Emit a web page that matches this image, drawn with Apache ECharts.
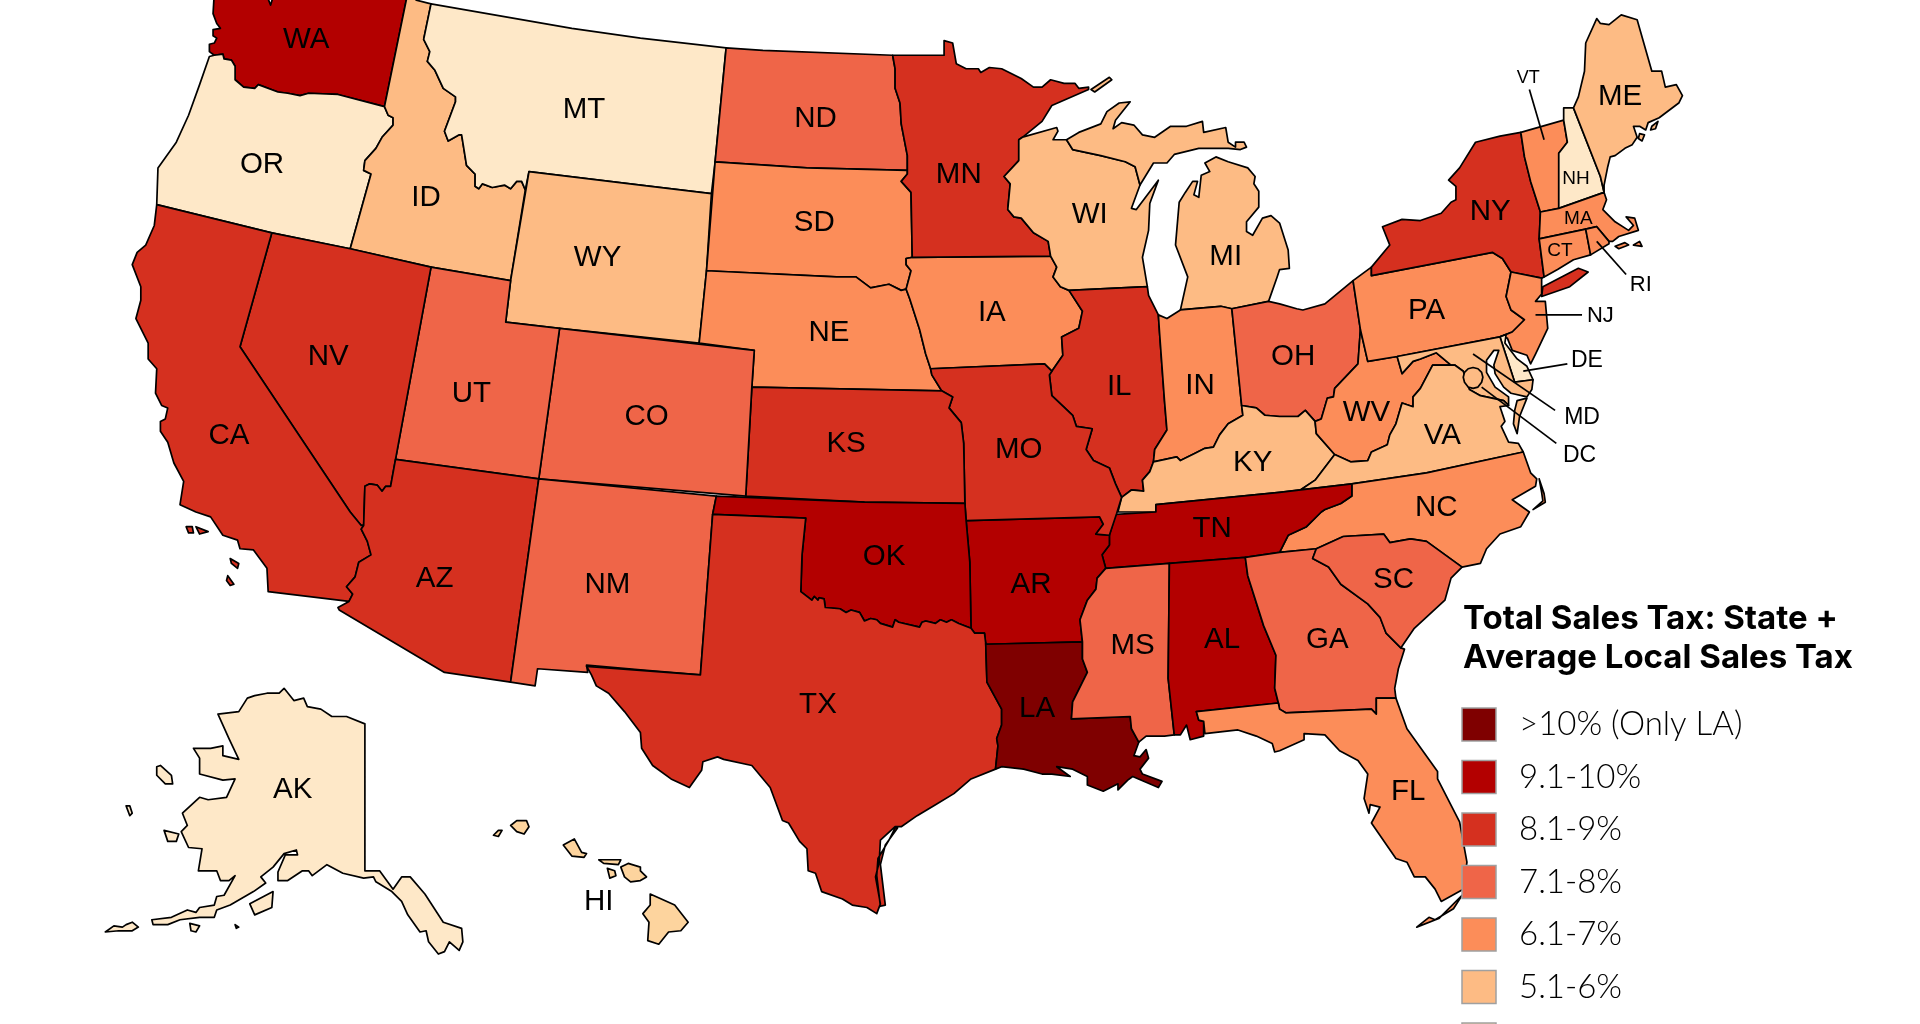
<!DOCTYPE html>
<html>
<head>
<meta charset="utf-8">
<style>html,body{margin:0;height:100%;overflow:hidden;background:#fff}#chart{width:1920px;height:1024px}</style>
<script src="https://cdn.jsdelivr.net/npm/echarts@6/dist/echarts.min.js"></script>
</head>
<body>
<div id="chart"></div>
<script>
// bins of the legend, top to bottom
var binLabels = ['>10% (Only LA)', '9.1-10%', '8.1-9%', '7.1-8%', '6.1-7%', '5.1-6%', '4.1-5%', '0-4%'];
var binColors = ['#7f0000', '#b30000', '#d5301f', '#ef6548', '#fc8d59', '#fdbb84', '#fdd49e', '#fee8c8'];

// states of each bin, same order as the legend
var statesOver10 = ['LA'];
var states9to10 = ['WA', 'OK', 'AR', 'AL', 'TN'];
var states8to9 = ['CA', 'NV', 'AZ', 'TX', 'KS', 'MO', 'IL', 'MN', 'NY'];
var states7to8 = ['UT', 'CO', 'NM', 'ND', 'OH', 'GA', 'SC', 'MS'];
var states6to7 = ['SD', 'NE', 'IA', 'IN', 'WV', 'PA', 'NJ', 'NC', 'FL', 'VT', 'MA', 'CT', 'RI'];
var states5to6 = ['ID', 'WY', 'WI', 'MI', 'KY', 'VA', 'MD', 'DC', 'ME'];
var states4to5 = ['HI'];
var statesUnder4 = ['OR', 'MT', 'NH', 'DE', 'AK'];
var binStates = [statesOver10, states9to10, states8to9, states7to8, states6to7, states5to6, states4to5, statesUnder4];

var smallLabels = {VT: 18, NH: 19, MA: 19, CT: 19, RI: 22, NJ: 22, DE: 23, MD: 23, DC: 23};

// outline of the map, traced in a 1568x836 sketch. shared borders live here so both states use the same points
var WA_OR = '175,45 182,44 183,48 189,49 192,54 192,65 199,71 208,72 211,69 227,75 235,76 245,78 252,76 276,77 314,87';
var WA_ID = '314,87 333,-6';
var OR_ID = '314,87 317,94 321,96 321,102 312,112 307,121 298,131 297,139 303,142 286,203';
var ID_MT = '352,3 346,32 351,42 349,50 355,57 362,72 372,79 372,83 363,107 366,115 375,110 377,110 381,135 388,142 388,152 391,154 394,150 402,153 412,151 417,154 422,148 426,148 429,155';
var ND_MN = '729,45 731,56 731,72 735,84 736,101 741,127 741,139';
var SD_MN = '741,139 741,142 736,148 744,157 745,210';
var SD_IA = '745,210 740,211 740,216 744,221 740,236';
var SD_NE = '740,236 736,237 726,232 711,235 699,226 683,226 577,221';
var NE_IA = '740,236 743,244 751,269 756,289 760,301';
var NE_MO = '760,301 761,306 769,319';
var IA_WI = '858,209 863,218 860,226 866,234 873,237';
var IA_IL = '873,237 884,254 881,268 867,275 868,290 859,303';
var IA_MO = '859,303 853,297 760,301';
var MN_WI = '835,112 832,114 832,131 820,144 825,150 823,171 828,177 834,178 844,190 856,197 858,209';
var WI_MI = '876,122 899,127 919,132 927,136 931,151';
var IL_IN = '946,257 947,272 951,327 953,351 943,367 942,377';
var IL_KY = '942,377 939,385 933,392 934,401 924,400 916,406';
var IL_MO = '859,303 857,306 859,323 876,339 879,348 892,350 887,367 893,376 906,382 911,395 916,406';
var IN_KY = '1014,331 1015,339 1003,346 996,355 991,365 984,366 976,370 964,376 961,373 942,377';
var KY_OH = '1014,331 1026,333 1033,339 1045,340 1060,340 1066,335 1074,344';
var KY_WV = '1074,344 1075,354 1090,371';
var KY_VA = '1090,371 1074,392 1062,400';
var OH_WV = '1111,269 1109,297 1090,317 1089,324 1084,325 1079,342 1074,344';
var WV_MD = '1141,291 1145,305 1154,295 1160,293 1173,288 1185,298';
var WV_VA = '1185,298 1170,298 1160,317 1154,324 1154,332 1145,329 1140,346 1135,355 1133,363 1120,369 1117,376 1103,377 1090,371';
var PA_NY = '1120,225 1219,206 1227,211 1234,222';
var PA_NJ = '1234,222 1230,242 1234,253 1245,261 1235,271 1225,275';
var NY_VT = '1242,108 1245,128 1250,148 1258,173';
var VT_NH = '1273,170 1273,125 1280,116 1277,98';
var NH_ME = '1285,88 1307,144 1310,157';
var VA_NC = '1244,369 1165,386 1104,395';
var TN_NC = '1104,395 1104,405 1095,411 1082,416 1079,418 1067,430 1052,437 1045,451';
var TN_AR = '903,464 900,453 906,445 906,437';
var AR_MS = '903,464 896,472 895,481 888,490 882,506 884,524';
var NC_SC = '1194,463 1165,442 1152,440 1135,443 1130,436 1097,438 1075,448';
var SC_GA = '1075,448 1072,456 1085,463 1095,477 1117,493 1127,504 1132,517 1144,529';
var MO_KS = '769,319 778,324 775,333 785,345 787,362 788,411';
var OK_TX = '793,513 783,509 777,506 773,508 768,506 764,509 756,507 753,508 751,512 734,508 731,506 729,512 719,509 716,506 711,505 706,507 702,500 695,498 691,500 686,497 674,496 673,489 669,488 668,490 665,487 663,490 654,483';
var TX_LA = '805,525 806,557 818,579 818,592 814,603 815,609 813,628';
var LA_MS = '884,524 884,538 888,549 876,573 875,587 923,585 924,595 930,606';
var AL_GA = '1017,455 1019,470 1032,511 1042,535 1041,562 1044,574';
var GA_FL = '1140,570 1124,570 1124,583 1120,579 1050,582 1045,579 1044,574';
var CA_NV = '222,190 196,283 286,418 295,429 297,429';
var CA_AZ = '297,429 295,432 300,442 303,453 293,459 290,471 283,479 288,485 285,491';

function pts(s) {
	return s.trim().split(/\s+/).map(function(p) {
		return p.split(',').map(Number);
	});
}
// a ring joins strings; rev() walks a shared border the other way
function rev(s) {
	return s.trim().split(/\s+/).reverse().join(' ');
}
function ring() {
	return pts(Array.prototype.join.call(arguments, ' '));
}

var shapes = {
	WA: [ring('175,-6 174,11 177,19 180,23 174,24 174,29 177,31 175,35 171,36 171,42', WA_OR, WA_ID, '224,-6 221,4 217,-6')],
	OR: [ring('171,46 163,69 154,94 144,116 129,137 128,167 222,190 286,203', rev(OR_ID), rev(WA_OR))],
	ID: [ring('333,-6 340,0', ID_MT, '417,229 352,218 286,203', rev(OR_ID), WA_ID)],
	MT: [ring('467,23 523,31 593,39 584,132 581,158 523,151 432,140', rev(ID_MT))],
	WY: [ring('432,140 523,151 581,158 577,221 571,280 523,275 457,268 413,263 417,229')],
	ND: [ring('593,39 623,41', ND_MN, '659,137 584,132')],
	SD: [ring('584,132 659,137', SD_MN, SD_IA, SD_NE)],
	NE: [ring(rev(SD_NE), '743,244 751,269 756,289', NE_MO, '614,316 616,286 571,280')],
	IA: [ring(IA_WI, IA_IL, IA_MO, rev(NE_IA), rev(SD_IA))],
	MN: [ring('729,45 771,45 771,33 778,35 781,52 789,56 799,56 801,59 808,55 818,56 834,64 844,71 851,71 858,65 869,68 878,68 881,72 889,71 889,73 859,86 851,99', MN_WI, rev(SD_MN), rev(ND_MN))],
	WI: [ring('835,112 838,111 863,104 864,107 860,114 871,114', WI_MI, '924,170 928,171 946,147 939,166 938,188 933,210 937,234 873,237', rev(IA_WI), rev(MN_WI))],
	MI: [
		ring('871,114 881,108 899,101 904,91 914,84 923,83 911,98 909,105 916,100 926,102 933,110 943,112 956,103 969,103 982,99 983,108 1001,104 1003,116 1009,120 1009,116 1016,116 1018,120 1013,122 1003,121 979,121 959,126 953,133 942,133', rev(WI_MI)),
		ring('993,128 1003,132 1019,137 1025,144 1024,150 1028,156 1028,169 1018,181 1018,189 1023,192 1031,178 1038,176 1045,182 1052,204 1053,219 1045,220 1043,226 1036,246 1006,252 997,250 964,253 970,226 960,200 963,165 968,157 974,148 978,148 975,159 979,161 981,143 988,140 984,133'),
		ring('891,73 906,63 908,65 894,75')
	],
	IL: [ring('873,237 937,234 938,241', IL_IN, IL_KY, rev(IL_MO), rev(IA_IL))],
	IN: [ring('946,257 953,260 964,253 997,250 1006,252', IN_KY, rev(IL_IN))],
	OH: [ring('1006,252 1036,246 1045,248 1059,252 1064,253 1082,248 1105,229', OH_WV, rev(KY_OH))],
	KY: [ring(KY_OH, KY_WV, KY_VA, '1045,402 944,412 944,418 913,418', rev(IL_KY), rev(IN_KY))],
	WV: [ring('1117,295', WV_MD, WV_VA, rev(KY_WV), rev(OH_WV))],
	PA: [ring('1105,229 1120,218', PA_NY, PA_NJ, '1141,291 1117,295 1111,269')],
	NY: [
		ring('1120,218 1135,200 1129,185 1145,179 1160,180 1177,174 1185,165 1189,163 1189,152 1183,147 1192,137 1205,116 1225,111', NY_VT, '1257,195 1261,226 1259,227', rev(PA_NY)),
		ring('1259,242 1260,234 1289,219 1297,222 1282,234')
	],
	VT: [ring(NY_VT, VT_NH)],
	NH: [ring('1277,88', NH_ME, VT_NH)],
	ME: [
		ring('1289,79 1294,58 1295,35 1304,15 1307,19 1314,20 1324,12 1337,16 1349,58 1357,58 1360,71 1369,69 1374,78 1371,84 1355,96 1346,100 1344,106 1339,103 1334,103 1337,112 1333,118 1327,121 1319,127 1315,128 1313,136 1310,151', rev(NH_ME)),
		ring('1339,109 1343,110 1341,115 1338,113'),
		ring('1349,103 1354,99 1352,105 1348,106')
	],
	MA: [
		ring('1258,173 1273,170 1310,157 1312,163 1309,171 1319,181 1330,188 1334,184 1328,177 1335,178 1338,188 1322,193 1317,197 1314,197 1304,185 1295,187 1257,195'),
		ring('1319,201 1327,198 1330,200 1322,203'),
		ring('1334,200 1339,197 1341,201')
	],
	CT: [ring('1257,195 1295,187 1299,208 1285,212 1272,220 1261,226')],
	RI: [ring('1295,187 1304,185 1314,197 1314,199 1299,208')],
	NJ: [ring('1259,227 1259,240 1254,246 1262,246 1264,268 1254,289 1250,297 1247,290 1235,286 1231,276', rev(PA_NJ))],
	DE: [ring('1225,275 1230,273 1229,280 1239,293 1247,299 1252,310 1237,312')],
	MD: [ring('1225,275 1237,312 1252,310 1251,318 1247,324 1234,321 1228,316 1221,305 1220,298 1224,286 1220,286 1214,294 1214,304 1221,316 1232,324 1232,331 1228,327 1209,323 1200,318 1195,303 1188,298', rev(WV_MD))],
	VA: [
		ring('1188,298 1195,303 1200,318 1209,323 1228,327 1232,331 1225,332 1229,344 1226,348 1232,361 1240,362', VA_NC, rev(KY_VA), rev(WV_VA)),
		ring('1239,327 1247,325 1241,340 1239,354 1236,346 1237,335')
	],
	NC: [
		ring(rev(VA_NC), '1250,386 1255,391 1254,397 1235,408 1249,418 1242,430 1225,436 1214,448 1209,460', NC_SC, rev(TN_NC)),
		ring('1257,391 1261,403 1262,410 1252,416 1260,409 1259,402')
	],
	TN: [ring('911,420 944,418 944,412 1045,402', TN_NC, '1017,455 955,460', TN_AR)],
	AR: [ring('789,425 898,422 901,428 895,436', rev(TN_AR), AR_MS, '805,526 804,517 796,517 793,513 792,459')],
	MO: [ring(rev(IA_MO), IL_MO, '912,419 906,437 895,436 901,428 898,422 789,425', rev(MO_KS), rev(NE_MO))],
	KS: [ring('614,316', MO_KS, '706,410 609,405')],
	CO: [ring('457,268 616,286 614,316 609,405 440,391')],
	UT: [ring('352,218 417,229 413,263 457,268 440,391 323,375')],
	NV: [ring('286,203 352,218 323,375 319,397 315,397 312,401 308,396 302,395 298,397', rev(CA_NV))],
	CA: [
		ring('128,167 126,184 119,200 112,206 108,216 115,234 115,245 111,260 121,280 121,293 128,301 127,321 132,331 137,333 135,342 131,344 131,352 137,361 142,378 150,393 147,412 160,418 172,422 182,437 194,441 196,448 207,449 218,464 219,483', rev(CA_AZ), rev(CA_NV)),
		ring('152,430 157,430 158,435 154,435'),
		ring('160,430 170,434 163,436'),
		ring('188,456 195,460 194,464 189,460'),
		ring('186,470 191,477 188,478 185,474')
	],
	AZ: [ring('323,375 440,391 417,557 363,549 277,498 276,496', rev(CA_AZ), '298,397 302,395 308,396 312,401 315,397 319,397')],
	NM: [ring('440,391 585,405 582,420 572,551 523,547 479,543 480,549 439,546 437,560 417,557')],
	OK: [ring('585,405 706,410 788,411 789,425 792,459', OK_TX, '655,453 658,423 582,420')],
	TX: [
		ring('582,420 658,423 655,453', rev(OK_TX), '796,517 804,517', TX_LA, '793,636 779,648 764,657 749,666 736,675 731,675 719,686 718,704 715,716 719,738 716,746 708,741 696,739 688,734 671,728 666,713 660,711 659,693 653,687 644,672 639,670 629,643 614,625 591,620 586,618 574,622 573,629 563,643 548,636 533,625 524,611 523,598 510,581 497,566 487,560 483,551 479,544 572,551'),
		ring('733,676 723,690 719,706 723,739 719,740 716,715 717,701 726,686 731,676')
	],
	LA: [ring('805,526', LA_MS, '926,617 931,618 936,612 938,619 931,628 933,632 949,638 946,643 925,634 921,637 913,645 913,640 901,646 888,641 888,634 876,628 863,626 874,634 859,632 851,632 836,628 818,626', rev(TX_LA))],
	MS: [ring('903,464 955,460 954,554 959,600 951,601 936,601', rev(LA_MS), rev(AR_MS))],
	AL: [ring('955,460', AL_GA, '977,581 979,588 983,589 983,601 972,604 969,592 964,600 959,600 954,554')],
	GA: [ring('1045,451', SC_GA, '1147,530 1142,546 1139,562', GA_FL, rev(AL_GA))],
	SC: [ring(NC_SC, SC_GA, '1155,513 1180,490 1185,472')],
	FL: [
		ring(rev(GA_FL), '1149,595 1174,630 1174,636 1192,671 1198,704 1195,726 1177,736 1172,726 1164,716 1155,716 1149,704 1140,701 1120,672 1127,659 1119,657 1118,664 1114,652 1117,632 1109,621 1094,613 1082,600 1065,599 1065,604 1045,613 1041,614 1039,607 1026,601 1011,596 984,599 983,589 979,588 977,581'),
		ring('1194,731 1175,750 1157,757 1167,749 1172,751 1187,742')
	],
	AK: [
		ring('178,583 195,581 202,570 208,568 218,566 228,566 232,562 240,572 248,570 251,577 262,579 271,585 283,585 298,591 298,711 310,711 321,726 328,716 335,716 347,730 362,753 377,758 378,769 375,776 367,769 363,777 358,779 350,769 348,760 343,761 333,747 328,736 320,728 307,720 305,716 297,717 280,713 267,706 255,715 252,711 247,711 235,719 227,719 227,712 233,698 243,698 242,694 232,697 223,708 213,716 217,721 207,728 188,739 177,743 175,749 163,749 147,751 137,755 125,755 124,751 140,749 153,743 160,745 163,741 175,739 177,732 183,731 192,715 187,719 180,719 177,711 162,711 165,693 154,692 148,679 153,674 149,664 163,651 170,653 185,651 192,636 182,637 163,632 163,619 158,611 172,611 182,609 182,617 195,620 187,603'),
		ring('128,626 131,625 140,633 141,640 135,640 128,633'),
		ring('103,658 106,658 108,664 106,666'),
		ring('134,678 146,681 144,687 137,687'),
		ring('204,738 223,728 222,741 208,747'),
		ring('86,761 93,756 100,757 103,755 108,753 113,757 108,760 97,760'),
		ring('192,755 195,757 193,758'),
		ring('155,754 163,756 160,761 156,760')
	],
	HI: [
		ring('417,674 422,670 430,670 432,675 428,681 422,679'),
		ring('403,682 407,678 410,678 407,683'),
		ring('460,690 469,685 475,696 479,697 477,700 467,699'),
		ring('489,702 507,702 505,706 493,705'),
		ring('496,709 502,711 503,715 498,717'),
		ring('507,708 513,705 523,708 523,711 528,716 523,719 515,720 510,716'),
		ring('531,730 551,739 562,753 556,760 546,761 538,771 529,768 530,753 525,746 531,739')
	],
	DC: [ring('1211,308 1210,312 1207,316 1203,317 1199,316 1196,312 1195,308 1196,304 1199,301 1203,300 1207,301 1210,304')]
};

// where each code is written, in the same sketch units
var labelAt = {
	WA: [250, 31], OR: [214, 133], ID: [348, 160], MT: [477, 88], WY: [488, 209], ND: [666, 95], SD: [665, 180],
	NE: [677, 270], MN: [783, 141], IA: [810, 254], WI: [890, 174], MI: [1001, 208], IL: [914, 314], IN: [980, 313],
	OH: [1056, 290], NV: [268, 290], CA: [187, 354], UT: [385, 320], CO: [528, 339], AZ: [355, 471], NM: [496, 476],
	KS: [691, 361], MO: [832, 366], OK: [722, 453], TX: [668, 574], AR: [842, 476], LA: [847, 577], MS: [925, 526],
	AL: [998, 521], TN: [990, 430], KY: [1023, 376], GA: [1084, 521], SC: [1138, 472], FL: [1150, 645], NC: [1173, 413],
	VA: [1178, 354], WV: [1116, 335], PA: [1165, 252], NY: [1217, 171], ME: [1323, 77], AK: [239, 643], HI: [489, 735],
	NH: [1287, 144], MA: [1289, 177], CT: [1274, 203], VT: [1248, 62], RI: [1340, 231], NJ: [1307, 256], DE: [1296, 293],
	MD: [1292, 339], DC: [1290, 370]
};

// leader lines to the codes written outside the small states
var leaders = [
	[[1249, 73], [1261, 114]],
	[[1304, 197], [1328, 224]],
	[[1254, 257], [1292, 257]],
	[[1244, 303], [1280, 297]],
	[[1203, 289], [1270, 335]],
	[[1210, 316], [1271, 362]]
];

echarts.registerMap('usa', {
	type: 'FeatureCollection',
	features: Object.keys(shapes).map(function(code) {
		return {
			type: 'Feature',
			properties: {name: code, cp: labelAt[code]},
			geometry: {type: 'MultiPolygon', coordinates: shapes[code].map(function(r) { return [r]; })}
		};
	})
});

var mapData = [];
binStates.forEach(function(list, bin) {
	list.forEach(function(code) {
		var item = {name: code, value: bin};
		if (smallLabels[code]) {
			item.label = {fontSize: smallLabels[code]};
		}
		mapData.push(item);
	});
});

var legendLeft = 1462;
var legendTop = 708;
var legendSize = 34;
var legendStep = 52.5;

var chart = echarts.init(document.getElementById('chart'));
chart.setOption({
	animation: false,
	backgroundColor: '#fff',
	title: {
		text: 'Total Sales Tax: State +\nAverage Local Sales Tax',
		left: 1463,
		top: 600,
		padding: 0,
		textStyle: {
			fontFamily: 'Inter',
			fontWeight: 700,
			fontSize: 33,
			lineHeight: 39,
			color: '#000'
		}
	},
	visualMap: {
		type: 'piecewise',
		left: legendLeft,
		top: legendTop,
		padding: 0,
		inverse: true,
		align: 'left',
		itemSymbol: 'rect',
		itemWidth: legendSize,
		itemHeight: 33,
		itemGap: 19.5,
		textGap: 23,
		hoverLink: false,
		selectedMode: false,
		seriesIndex: 0,
		textStyle: {
			fontFamily: 'Lato',
			fontWeight: 300,
			fontSize: 33,
			color: '#000'
		},
		pieces: binLabels.map(function(label, i) {
			return {value: i, label: label, color: binColors[i], symbol: 'rect'};
		})
	},
	series: [{
		type: 'map',
		map: 'usa',
		silent: true,
		projection: {
			project: function(p) { return p; },
			unproject: function(p) { return p; }
		},
		boundingCoords: [[0, 0], [1568, 836]],
		layoutCenter: ['50%', '50%'],
		layoutSize: 1920,
		itemStyle: {
			borderColor: '#000',
			borderWidth: 1.7,
			borderJoin: 'round'
		},
		label: {
			show: true,
			formatter: '{b}',
			fontFamily: 'Liberation Sans',
			fontSize: 29.5,
			offset: [0, 2],
			color: '#000'
		},
		emphasis: {disabled: true},
		data: mapData
	}]
});

var graphics = [];
leaders.forEach(function(l) {
	var a = chart.convertToPixel({seriesIndex: 0}, l[0]);
	var b = chart.convertToPixel({seriesIndex: 0}, l[1]);
	graphics.push({
		type: 'line',
		z: 5,
		shape: {x1: a[0], y1: a[1], x2: b[0], y2: b[1]},
		style: {stroke: '#000', lineWidth: 1.7}
	});
});
binLabels.forEach(function(label, i) {
	graphics.push({
		type: 'rect',
		z: 10,
		shape: {x: legendLeft, y: legendTop + i * legendStep, width: legendSize, height: 33},
		style: {fill: 'none', stroke: '#a0a0a0', lineWidth: 1.5}
	});
});
chart.setOption({graphic: graphics});
</script>
</body>
</html>
